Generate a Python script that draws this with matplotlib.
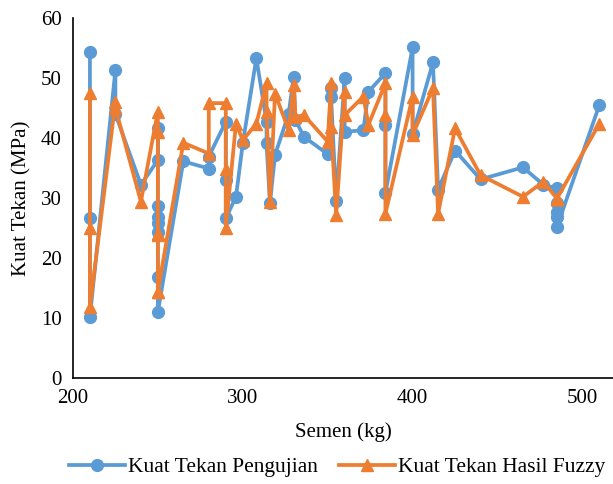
import matplotlib
matplotlib.use("Agg")
import matplotlib.pyplot as plt

plt.rcParams['font.family'] = ['Liberation Serif', 'DejaVu Serif']

# semen (kg), kuat tekan pengujian (MPa), kuat tekan hasil fuzzy (MPa)
semen = [210, 210, 210, 225, 225, 240,
         250, 250, 250, 250, 250, 250, 250, 250,
         265, 280, 280, 290, 290, 290, 296, 300, 308,
         314, 314, 316, 319, 327, 330, 331, 336,
         350, 352, 352, 355, 360, 360, 371, 374,
         384, 384, 384, 400, 400, 412, 415, 425, 440,
         465, 477, 485, 485, 485, 485, 485, 510]
pengujian = [54.4, 26.6, 10.2, 51.3, 44.0, 32.2,
             36.3, 41.6, 28.6, 26.9, 25.8, 24.4, 16.9, 11.0,
             36.1, 34.9, 36.9, 42.7, 33.0, 26.6, 30.2, 39.1, 53.3,
             42.7, 39.1, 29.1, 37.2, 44.0, 50.2, 43.0, 40.2,
             37.3, 48.3, 46.9, 29.5, 50.0, 41.0, 41.3, 47.7,
             50.8, 42.2, 30.8, 55.1, 40.6, 52.6, 31.4, 37.9, 33.1,
             35.1, 32.2, 31.6, 29.2, 27.7, 26.9, 25.2, 45.5]
fuzzy = [47.5, 25.0, 11.8, 46.0, 45.0, 29.4,
         44.4, 41.0, 24.0, 24.0, 23.8, 24.0, 14.4, 14.4,
         39.2, 37.4, 45.8, 45.8, 34.9, 25.0, 42.4, 39.6, 42.4,
         49.1, 44.4, 29.4, 47.4, 41.3, 48.8, 43.5, 43.8,
         39.4, 49.1, 41.9, 27.2, 47.7, 43.8, 46.9, 42.2,
         49.1, 43.8, 27.4, 46.9, 40.5, 48.3, 27.4, 41.6, 33.8,
         30.2, 32.7, 29.9, 29.9, 29.9, 29.9, 29.9, 42.4]

fig = plt.figure(figsize=(6.13, 4.84), dpi=100)
ax = fig.add_axes([0.119, 0.219, 0.881, 0.744])

ax.plot(semen, pengujian, color='#5B9BD5', linewidth=2.7, marker='o',
        markersize=8.5, label='Kuat Tekan Pengujian')
ax.plot(semen, fuzzy, color='#ED7D31', linewidth=2.7, marker='^',
        markersize=9, label='Kuat Tekan Hasil Fuzzy')

ax.set_xlim(200, 518)
ax.set_ylim(0, 60)
ax.set_xticks([200, 300, 400, 500])
ax.set_yticks(range(0, 61, 10))
ax.tick_params(length=0, labelsize=15, pad=8)
for s in ['top', 'right']:
    ax.spines[s].set_visible(False)
for s in ['left', 'bottom']:
    ax.spines[s].set_color('black')
    ax.spines[s].set_linewidth(1.2)

ax.set_xlabel('Semen (kg)', fontsize=15, labelpad=10)
ax.set_ylabel('Kuat Tekan (MPa)', fontsize=15, labelpad=7)

fig.legend(loc='center', bbox_to_anchor=(0.55, 0.035), ncol=2, frameon=False,
           fontsize=15.5, handlelength=2.6, columnspacing=1.0, handletextpad=0.15)

fig.savefig('out.png', dpi=100)
